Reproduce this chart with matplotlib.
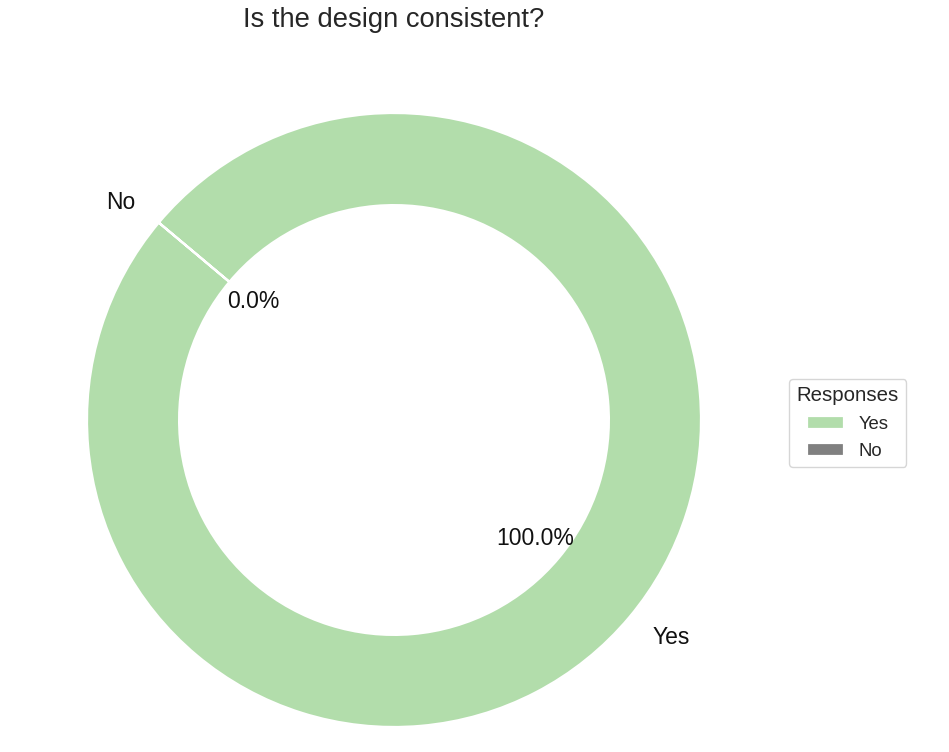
import matplotlib
matplotlib.use("Agg")
import matplotlib.pyplot as plt

categories = ["Yes", "No"]
values = [100, 0]
colors = ["#b2ddab", "#808080"]
title = "Is the design consistent?"
legend_title = "Responses"

plt.rcParams['font.family'] = ['Liberation Sans', 'DejaVu Sans']

W, H = 949, 752
fig = plt.figure(figsize=(W / 100, H / 100), dpi=100)
cx, cy, r = 394, 420, 307
half = r * 1.25
ax = fig.add_axes([(cx - half) / W, (H - cy - half) / H, 2 * half / W, 2 * half / H])

wedges, texts, autotexts = ax.pie(
    values, labels=categories, colors=colors, startangle=140,
    autopct='%1.1f%%', pctdistance=0.6, labeldistance=1.1,
    wedgeprops=dict(width=0.3, edgecolor='white', linewidth=1.6),
    textprops=dict(fontsize=16.5, color='#111111'))
ax.set_xlim(-1.25, 1.25)
ax.set_ylim(-1.25, 1.25)
ax.set_aspect('equal')
ax.set_title(title, fontsize=19.7, color='#262626', pad=7)

leg = ax.legend(wedges, categories, title=legend_title, loc='center left',
                bbox_to_anchor=(1.003, -0.004, 0.5, 1), fontsize=13.3, title_fontsize=14.7,
                frameon=True, fancybox=True, edgecolor='#cccccc', labelspacing=0.55)
leg.get_title().set_color('#262626')
for t in leg.get_texts():
    t.set_color('#262626')

fig.savefig("out.png", dpi=100)
